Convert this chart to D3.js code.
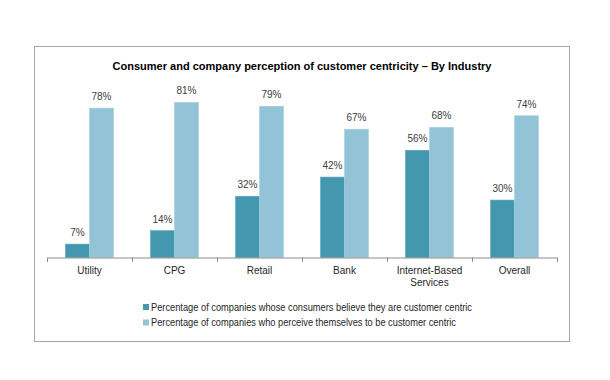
<!DOCTYPE html>
<html><head><meta charset="utf-8">
<script src="https://cdn.jsdelivr.net/npm/d3@7"></script>
<style>body{margin:0;background:#fff}svg{display:block}</style>
</head><body>
<svg id="c" width="610" height="380"></svg>
<script>
const categories = ["Utility","CPG","Retail","Bank","Internet-Based Services","Overall"];
const categoryLines = [["Utility"],["CPG"],["Retail"],["Bank"],["Internet-Based","Services"],["Overall"]];
const consumerBelieve = [0.07,0.14,0.32,0.42,0.56,0.30];
const companyPerceive = [0.78,0.81,0.79,0.67,0.68,0.74];
const seriesNames = ["Percentage of companies whose consumers believe they are customer centric",
                     "Percentage of companies who perceive themselves to be customer centric"];
const colors = ["#4398AF","#93C3D7"];

const svg = d3.select("#c");
const font = "'Liberation Sans', Arial, sans-serif";
svg.append("rect").attr("x",34.5).attr("y",46.5).attr("width",535).attr("height",295)
  .attr("fill","#fff").attr("stroke","#a6a6a6").attr("stroke-width",1);
svg.append("text").attr("x",302).attr("y",70).attr("text-anchor","middle")
  .attr("font-family",font).attr("font-weight","bold").attr("font-size",11)
  .attr("textLength",379).attr("lengthAdjust","spacingAndGlyphs")
  .attr("fill","#000").text("Consumer and company perception of customer centricity \u2013 By Industry");

const x0 = d3.scaleBand().domain(categories).range([47,557]).paddingInner(0).paddingOuter(0);
const groupW = 48;
const x1 = d3.scaleBand().domain([0,1]).range([0,groupW]);
const y = d3.scaleLinear().domain([0,1]).range([257.5,66]);

const series = [consumerBelieve, companyPerceive];
series.forEach((vals,si)=>{
  const g = svg.append("g");
  g.selectAll("rect").data(vals).join("rect")
    .attr("x",(d,i)=>x0(categories[i])+(x0.bandwidth()-groupW)/2+x1(si))
    .attr("y",d=>y(d)).attr("width",x1.bandwidth()).attr("height",d=>y(0)-y(d))
    .attr("fill",colors[si]).attr("stroke",si?"#a9d0df":"#5aa8bd").attr("stroke-width",0.6);
  g.selectAll("text").data(vals).join("text")
    .attr("x",(d,i)=>x0(categories[i])+(x0.bandwidth()-groupW)/2+x1(si)+x1.bandwidth()/2)
    .attr("y",d=>y(d)-8).attr("text-anchor","middle")
    .attr("font-family",font).attr("font-size",10).attr("fill","#404040")
    .text(d=>Math.round(d*100)+"%");
});

const ax = svg.append("g").attr("transform","translate(0,257.5)")
  .call(d3.axisBottom(x0).tickSize(0).tickFormat(""));
ax.select(".domain").attr("stroke","#8c8c8c");
const edges = categories.map(c=>x0(c)).concat([x0.range()[1]]);
svg.append("g").selectAll("line").data(edges).join("line")
  .attr("x1",d=>d+0.5).attr("x2",d=>d+0.5).attr("y1",257.5).attr("y2",262)
  .attr("stroke","#8c8c8c");
categories.forEach((c,i)=>{
  const t = svg.append("text").attr("text-anchor","middle")
    .attr("font-family",font).attr("font-size",10).attr("fill","#262626");
  categoryLines[i].forEach((ln,j)=>{
    t.append("tspan").attr("x",x0(c)+x0.bandwidth()/2).attr("y",274+j*12).text(ln);
  });
});

const leg = svg.append("g");
seriesNames.forEach((n,i)=>{
  leg.append("rect").attr("x",143).attr("y",304+i*15.5).attr("width",6).attr("height",6).attr("fill",colors[i]);
  leg.append("text").attr("x",151).attr("y",310.5+i*15.5)
    .attr("font-family",font).attr("font-size",10).attr("fill","#262626")
    .attr("textLength",i?305:321).attr("lengthAdjust","spacingAndGlyphs").text(n);
});
</script>
</body></html>
